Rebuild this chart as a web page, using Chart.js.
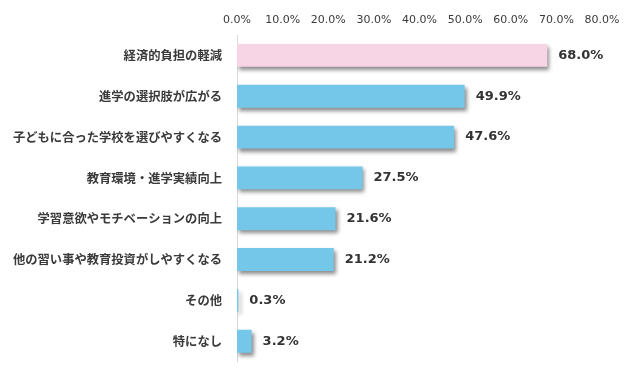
<!DOCTYPE html>
<html><head><meta charset="utf-8">
<script src="https://cdn.jsdelivr.net/npm/chart.js@4"></script>
<style>html,body{margin:0;padding:0;background:#fff}#wrap{width:640px;height:384px}</style>
</head><body><div id="wrap"><canvas id="c" width="640" height="384"></canvas></div>
<script>
const categories = ["経済的負担の軽減","進学の選択肢が広がる","子どもに合った学校を選びやすくなる","教育環境・進学実績向上","学習意欲やモチベーションの向上","他の習い事や教育投資がしやすくなる","その他","特になし"];
const values = [68.0, 49.9, 47.6, 27.5, 21.6, 21.2, 0.3, 3.2];
const barColors = ["#F8D5E5","#74C7E9","#74C7E9","#74C7E9","#74C7E9","#74C7E9","#74C7E9","#74C7E9"];
const tickMax = 80, tickStep = 10;

const shadowPlugin = {
  id:'shadow',
  beforeDatasetsDraw(chart){const c=chart.ctx;c.save();c.shadowColor='rgba(0,0,0,0.45)';c.shadowBlur=4;c.shadowOffsetX=2;c.shadowOffsetY=3;},
  afterDatasetsDraw(chart){chart.ctx.restore();}
};
const labelPlugin = {
  id:'vlabels',
  afterDatasetsDraw(chart){
    const c=chart.ctx;const meta=chart.getDatasetMeta(0);
    c.save();c.font='bold 13px "DejaVu Sans"';c.fillStyle='#333333';c.textAlign='left';c.textBaseline='middle';
    meta.data.forEach((b,i)=>{c.fillText(values[i].toFixed(1)+'%', b.x+11, b.y);});
    c.restore();
  }
};
new Chart(document.getElementById('c'),{
  type:'bar',
  data:{labels:categories,datasets:[{data:values,backgroundColor:barColors,borderWidth:0,barPercentage:0.56,categoryPercentage:1}]},
  options:{
    indexAxis:'y',responsive:false,animation:false,
    layout:{padding:{left:0,right:38,top:0,bottom:21}},
    plugins:{legend:{display:false},tooltip:{enabled:false}},
    scales:{
      x:{position:'top',min:0,max:tickMax,
        ticks:{stepSize:tickStep,padding:8,color:'#3a3a3a',font:{family:'"DejaVu Sans"',size:11},callback:v=>v.toFixed(1)+'%'},
        grid:{display:false,drawTicks:false},border:{display:false},
        afterFit(s){s.height=35;}},
      y:{ticks:{padding:15,color:'#3a3a3a',font:{family:'"Noto Sans CJK JP"',size:12.3,weight:'bold'}},
        grid:{display:false,drawTicks:false},border:{display:true,color:'#D9D9D9',width:1},
        afterFit(s){s.width=237;}}
    }
  },
  plugins:[shadowPlugin,labelPlugin]
});
</script></body></html>
